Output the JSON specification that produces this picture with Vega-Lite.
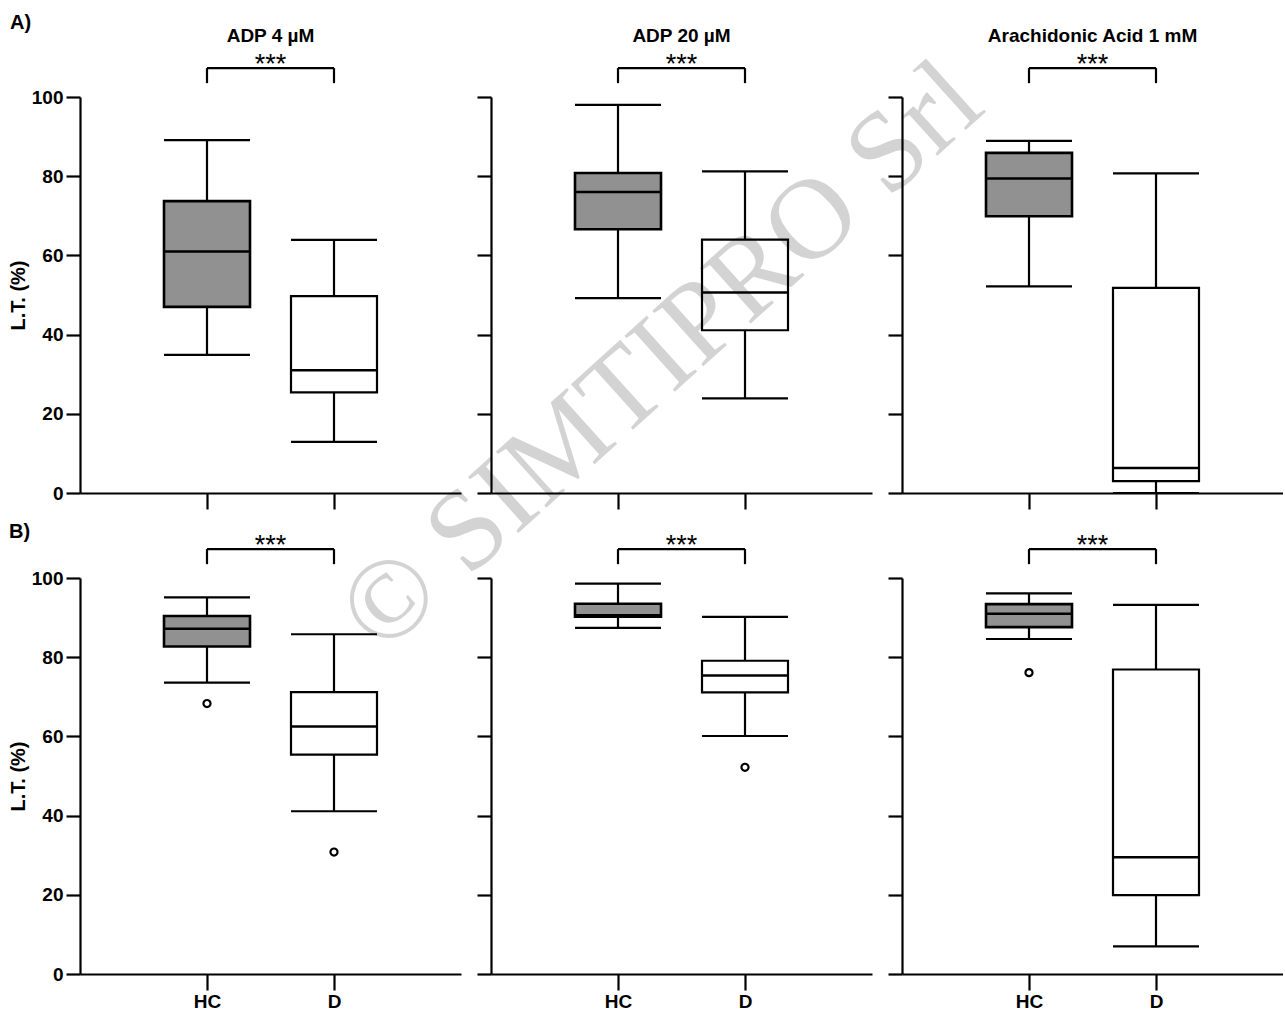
{
  "$schema": "https://vega.github.io/schema/vega-lite/v6.json",
  "background": "white",
  "padding": {"left": 8, "top": 12, "right": 0, "bottom": 0},
  "datasets": {
    "stats": [
      {"row": "A", "agonist": "ADP 4 µM", "group": "HC", "min": 34.9, "q1": 47.0, "median": 61.0, "q3": 73.7, "max": 89.1},
      {"row": "A", "agonist": "ADP 4 µM", "group": "D", "min": 12.9, "q1": 25.4, "median": 31.0, "q3": 49.7, "max": 63.9},
      {"row": "A", "agonist": "ADP 20 µM", "group": "HC", "min": 49.2, "q1": 66.6, "median": 76.0, "q3": 80.8, "max": 98.0},
      {"row": "A", "agonist": "ADP 20 µM", "group": "D", "min": 23.9, "q1": 41.1, "median": 50.6, "q3": 64.0, "max": 81.2},
      {"row": "A", "agonist": "Arachidonic Acid 1 mM", "group": "HC", "min": 52.2, "q1": 69.9, "median": 79.4, "q3": 85.9, "max": 88.9},
      {"row": "A", "agonist": "Arachidonic Acid 1 mM", "group": "D", "min": 0.0, "q1": 3.0, "median": 6.3, "q3": 51.8, "max": 80.7},
      {"row": "B", "agonist": "ADP 4 µM", "group": "HC", "min": 73.6, "q1": 82.7, "median": 87.2, "q3": 90.4, "max": 95.1},
      {"row": "B", "agonist": "ADP 4 µM", "group": "D", "min": 41.1, "q1": 55.4, "median": 62.5, "q3": 71.2, "max": 85.8},
      {"row": "B", "agonist": "ADP 20 µM", "group": "HC", "min": 87.4, "q1": 90.2, "median": 90.6, "q3": 93.5, "max": 98.6},
      {"row": "B", "agonist": "ADP 20 µM", "group": "D", "min": 60.1, "q1": 71.1, "median": 75.4, "q3": 79.1, "max": 90.2},
      {"row": "B", "agonist": "Arachidonic Acid 1 mM", "group": "HC", "min": 84.6, "q1": 87.6, "median": 91.0, "q3": 93.4, "max": 96.1},
      {"row": "B", "agonist": "Arachidonic Acid 1 mM", "group": "D", "min": 7.0, "q1": 19.9, "median": 29.5, "q3": 76.9, "max": 93.2},
      {"row": "B", "agonist": "ADP 4 µM", "group": "HC", "outlier": 68.3},
      {"row": "B", "agonist": "ADP 4 µM", "group": "D", "outlier": 30.8},
      {"row": "B", "agonist": "ADP 20 µM", "group": "D", "outlier": 52.2},
      {"row": "B", "agonist": "Arachidonic Acid 1 mM", "group": "HC", "outlier": 76.1}
    ],
    "notes": [
      {"row": "A", "agonist": "ADP 4 µM", "panel": "A)", "level": 117.2},
      {"row": "B", "agonist": "ADP 4 µM", "panel": "B)", "level": 110.1},
      {"row": "A", "agonist": "ADP 20 µM", "watermark": "© SIMTIPRO Srl", "level": 24.5}
    ]
  },
  "bounds": "flush",
  "columns": 3,
  "spacing": {"row": 85, "column": 30},
  "concat": [
    {
      "width": 381, "height": 396,
      "data": {"name": "stats"},
      "transform": [{"filter": "datum.row == 'A' && datum.agonist == 'ADP 4 µM'"}],
      "encoding": {"x": {"field": "group", "type": "nominal", "scale": {"type": "point", "domain": ["HC", "D"], "padding": 1}, "axis": {"title": null, "labels": false}}},
      "layer": [
        {"transform": [{"filter": "isValid(datum.median)"}], "mark": {"type": "rule", "color": "black", "strokeWidth": 2.2}, "encoding": {"y": {"field": "min", "type": "quantitative", "scale": {"domain": [0, 100], "nice": false}, "axis": {"title": "L.T. (%)", "values": [0, 20, 40, 60, 80, 100]}}, "y2": {"field": "max"}}},
        {"transform": [{"filter": "isValid(datum.median)"}], "mark": {"type": "bar", "width": 86, "stroke": "black"}, "encoding": {"y": {"field": "q1", "type": "quantitative"}, "y2": {"field": "q3"}, "fill": {"field": "group", "type": "nominal", "scale": {"domain": ["HC", "D"], "range": ["#919191", "#ffffff"]}, "legend": null}, "strokeWidth": {"field": "group", "type": "ordinal", "scale": {"domain": ["HC", "D"], "range": [2.6, 2.2]}, "legend": null}}},
        {"transform": [{"filter": "isValid(datum.median)"}], "mark": {"type": "tick", "size": 86, "thickness": 2.5, "color": "black", "opacity": 1}, "encoding": {"y": {"field": "median", "type": "quantitative"}}},
        {"transform": [{"filter": "isValid(datum.median)"}], "mark": {"type": "tick", "size": 86, "thickness": 2.2, "color": "black", "opacity": 1}, "encoding": {"y": {"field": "min", "type": "quantitative"}}},
        {"transform": [{"filter": "isValid(datum.median)"}], "mark": {"type": "tick", "size": 86, "thickness": 2.2, "color": "black", "opacity": 1}, "encoding": {"y": {"field": "max", "type": "quantitative"}}},
        {"transform": [{"filter": "isValid(datum.outlier)"}], "mark": {"type": "point", "shape": "circle", "filled": false, "size": 50, "strokeWidth": 2.2, "color": "black", "opacity": 1}, "encoding": {"y": {"field": "outlier", "type": "quantitative"}}},
        {"transform": [{"filter": "isValid(datum.median) && datum.group == 'HC'"}], "mark": {"type": "rule", "color": "black", "strokeWidth": 2.2}, "encoding": {"x": {"datum": "HC", "type": "nominal"}, "x2": {"datum": "D"}, "y": {"datum": 107.3, "type": "quantitative"}}},
        {"transform": [{"filter": "isValid(datum.median)"}], "mark": {"type": "rule", "color": "black", "strokeWidth": 2.2}, "encoding": {"y": {"datum": 103.5, "type": "quantitative"}, "y2": {"datum": 107.3}}},
        {"transform": [{"filter": "isValid(datum.median) && datum.group == 'HC'"}], "mark": {"type": "text", "text": "***", "fontSize": 27, "font": "Liberation Sans", "color": "black", "align": "center", "baseline": "alphabetic", "dx": 63.5}, "encoding": {"x": {"datum": "HC", "type": "nominal"}, "y": {"datum": 106.15, "type": "quantitative"}}},
        {"transform": [{"filter": "isValid(datum.median) && datum.group == 'HC'"}], "mark": {"type": "text", "fontSize": 19, "fontWeight": "bold", "font": "Liberation Sans", "color": "black", "align": "center", "baseline": "alphabetic", "dx": 63.5}, "encoding": {"x": {"datum": "HC", "type": "nominal"}, "y": {"datum": 113.9, "type": "quantitative"}, "text": {"field": "agonist"}}},
        {"data": {"name": "notes"}, "transform": [{"filter": "datum.panel == 'A)'"}], "mark": {"type": "text", "fontSize": 20, "fontWeight": "bold", "font": "Liberation Sans", "color": "black", "align": "left", "baseline": "alphabetic", "dx": -197}, "encoding": {"x": {"datum": "HC", "type": "nominal"}, "y": {"field": "level", "type": "quantitative"}, "text": {"field": "panel"}}}
      ]
    },
    {
      "width": 381, "height": 396,
      "data": {"name": "stats"},
      "transform": [{"filter": "datum.row == 'A' && datum.agonist == 'ADP 20 µM'"}],
      "encoding": {"x": {"field": "group", "type": "nominal", "scale": {"type": "point", "domain": ["HC", "D"], "padding": 1}, "axis": {"title": null, "labels": false}}},
      "layer": [
        {"transform": [{"filter": "isValid(datum.median)"}], "mark": {"type": "rule", "color": "black", "strokeWidth": 2.2}, "encoding": {"y": {"field": "min", "type": "quantitative", "scale": {"domain": [0, 100], "nice": false}, "axis": {"title": null, "labels": false, "values": [0, 20, 40, 60, 80, 100]}}, "y2": {"field": "max"}}},
        {"transform": [{"filter": "isValid(datum.median)"}], "mark": {"type": "bar", "width": 86, "stroke": "black"}, "encoding": {"y": {"field": "q1", "type": "quantitative"}, "y2": {"field": "q3"}, "fill": {"field": "group", "type": "nominal", "scale": {"domain": ["HC", "D"], "range": ["#919191", "#ffffff"]}, "legend": null}, "strokeWidth": {"field": "group", "type": "ordinal", "scale": {"domain": ["HC", "D"], "range": [2.6, 2.2]}, "legend": null}}},
        {"transform": [{"filter": "isValid(datum.median)"}], "mark": {"type": "tick", "size": 86, "thickness": 2.5, "color": "black", "opacity": 1}, "encoding": {"y": {"field": "median", "type": "quantitative"}}},
        {"transform": [{"filter": "isValid(datum.median)"}], "mark": {"type": "tick", "size": 86, "thickness": 2.2, "color": "black", "opacity": 1}, "encoding": {"y": {"field": "min", "type": "quantitative"}}},
        {"transform": [{"filter": "isValid(datum.median)"}], "mark": {"type": "tick", "size": 86, "thickness": 2.2, "color": "black", "opacity": 1}, "encoding": {"y": {"field": "max", "type": "quantitative"}}},
        {"transform": [{"filter": "isValid(datum.outlier)"}], "mark": {"type": "point", "shape": "circle", "filled": false, "size": 50, "strokeWidth": 2.2, "color": "black", "opacity": 1}, "encoding": {"y": {"field": "outlier", "type": "quantitative"}}},
        {"transform": [{"filter": "isValid(datum.median) && datum.group == 'HC'"}], "mark": {"type": "rule", "color": "black", "strokeWidth": 2.2}, "encoding": {"x": {"datum": "HC", "type": "nominal"}, "x2": {"datum": "D"}, "y": {"datum": 107.3, "type": "quantitative"}}},
        {"transform": [{"filter": "isValid(datum.median)"}], "mark": {"type": "rule", "color": "black", "strokeWidth": 2.2}, "encoding": {"y": {"datum": 103.5, "type": "quantitative"}, "y2": {"datum": 107.3}}},
        {"transform": [{"filter": "isValid(datum.median) && datum.group == 'HC'"}], "mark": {"type": "text", "text": "***", "fontSize": 27, "font": "Liberation Sans", "color": "black", "align": "center", "baseline": "alphabetic", "dx": 63.5}, "encoding": {"x": {"datum": "HC", "type": "nominal"}, "y": {"datum": 106.15, "type": "quantitative"}}},
        {"transform": [{"filter": "isValid(datum.median) && datum.group == 'HC'"}], "mark": {"type": "text", "fontSize": 19, "fontWeight": "bold", "font": "Liberation Sans", "color": "black", "align": "center", "baseline": "alphabetic", "dx": 63.5}, "encoding": {"x": {"datum": "HC", "type": "nominal"}, "y": {"datum": 113.9, "type": "quantitative"}, "text": {"field": "agonist"}}},
        {"data": {"name": "notes"}, "transform": [{"filter": "isValid(datum.watermark)"}], "mark": {"type": "text", "fontSize": 115, "font": "Liberation Serif", "color": "#000000", "opacity": 0.17, "angle": -42, "align": "center", "baseline": "middle", "dx": 58}, "encoding": {"x": {"datum": "HC", "type": "nominal"}, "y": {"field": "level", "type": "quantitative"}, "text": {"field": "watermark"}}}
      ]
    },
    {
      "width": 381, "height": 396,
      "data": {"name": "stats"},
      "transform": [{"filter": "datum.row == 'A' && datum.agonist == 'Arachidonic Acid 1 mM'"}],
      "encoding": {"x": {"field": "group", "type": "nominal", "scale": {"type": "point", "domain": ["HC", "D"], "padding": 1}, "axis": {"title": null, "labels": false}}},
      "layer": [
        {"transform": [{"filter": "isValid(datum.median)"}], "mark": {"type": "rule", "color": "black", "strokeWidth": 2.2}, "encoding": {"y": {"field": "min", "type": "quantitative", "scale": {"domain": [0, 100], "nice": false}, "axis": {"title": null, "labels": false, "values": [0, 20, 40, 60, 80, 100]}}, "y2": {"field": "max"}}},
        {"transform": [{"filter": "isValid(datum.median)"}], "mark": {"type": "bar", "width": 86, "stroke": "black"}, "encoding": {"y": {"field": "q1", "type": "quantitative"}, "y2": {"field": "q3"}, "fill": {"field": "group", "type": "nominal", "scale": {"domain": ["HC", "D"], "range": ["#919191", "#ffffff"]}, "legend": null}, "strokeWidth": {"field": "group", "type": "ordinal", "scale": {"domain": ["HC", "D"], "range": [2.6, 2.2]}, "legend": null}}},
        {"transform": [{"filter": "isValid(datum.median)"}], "mark": {"type": "tick", "size": 86, "thickness": 2.5, "color": "black", "opacity": 1}, "encoding": {"y": {"field": "median", "type": "quantitative"}}},
        {"transform": [{"filter": "isValid(datum.median)"}], "mark": {"type": "tick", "size": 86, "thickness": 2.2, "color": "black", "opacity": 1}, "encoding": {"y": {"field": "min", "type": "quantitative"}}},
        {"transform": [{"filter": "isValid(datum.median)"}], "mark": {"type": "tick", "size": 86, "thickness": 2.2, "color": "black", "opacity": 1}, "encoding": {"y": {"field": "max", "type": "quantitative"}}},
        {"transform": [{"filter": "isValid(datum.outlier)"}], "mark": {"type": "point", "shape": "circle", "filled": false, "size": 50, "strokeWidth": 2.2, "color": "black", "opacity": 1}, "encoding": {"y": {"field": "outlier", "type": "quantitative"}}},
        {"transform": [{"filter": "isValid(datum.median) && datum.group == 'HC'"}], "mark": {"type": "rule", "color": "black", "strokeWidth": 2.2}, "encoding": {"x": {"datum": "HC", "type": "nominal"}, "x2": {"datum": "D"}, "y": {"datum": 107.3, "type": "quantitative"}}},
        {"transform": [{"filter": "isValid(datum.median)"}], "mark": {"type": "rule", "color": "black", "strokeWidth": 2.2}, "encoding": {"y": {"datum": 103.5, "type": "quantitative"}, "y2": {"datum": 107.3}}},
        {"transform": [{"filter": "isValid(datum.median) && datum.group == 'HC'"}], "mark": {"type": "text", "text": "***", "fontSize": 27, "font": "Liberation Sans", "color": "black", "align": "center", "baseline": "alphabetic", "dx": 63.5}, "encoding": {"x": {"datum": "HC", "type": "nominal"}, "y": {"datum": 106.15, "type": "quantitative"}}},
        {"transform": [{"filter": "isValid(datum.median) && datum.group == 'HC'"}], "mark": {"type": "text", "fontSize": 19, "fontWeight": "bold", "font": "Liberation Sans", "color": "black", "align": "center", "baseline": "alphabetic", "dx": 63.5}, "encoding": {"x": {"datum": "HC", "type": "nominal"}, "y": {"datum": 113.9, "type": "quantitative"}, "text": {"field": "agonist"}}}
      ]
    },
    {
      "width": 381, "height": 396,
      "data": {"name": "stats"},
      "transform": [{"filter": "datum.row == 'B' && datum.agonist == 'ADP 4 µM'"}],
      "encoding": {"x": {"field": "group", "type": "nominal", "scale": {"type": "point", "domain": ["HC", "D"], "padding": 1}, "axis": {"title": null, "labels": true}}},
      "layer": [
        {"transform": [{"filter": "isValid(datum.median)"}], "mark": {"type": "rule", "color": "black", "strokeWidth": 2.2}, "encoding": {"y": {"field": "min", "type": "quantitative", "scale": {"domain": [0, 100], "nice": false}, "axis": {"title": "L.T. (%)", "values": [0, 20, 40, 60, 80, 100]}}, "y2": {"field": "max"}}},
        {"transform": [{"filter": "isValid(datum.median)"}], "mark": {"type": "bar", "width": 86, "stroke": "black"}, "encoding": {"y": {"field": "q1", "type": "quantitative"}, "y2": {"field": "q3"}, "fill": {"field": "group", "type": "nominal", "scale": {"domain": ["HC", "D"], "range": ["#919191", "#ffffff"]}, "legend": null}, "strokeWidth": {"field": "group", "type": "ordinal", "scale": {"domain": ["HC", "D"], "range": [2.6, 2.2]}, "legend": null}}},
        {"transform": [{"filter": "isValid(datum.median)"}], "mark": {"type": "tick", "size": 86, "thickness": 2.5, "color": "black", "opacity": 1}, "encoding": {"y": {"field": "median", "type": "quantitative"}}},
        {"transform": [{"filter": "isValid(datum.median)"}], "mark": {"type": "tick", "size": 86, "thickness": 2.2, "color": "black", "opacity": 1}, "encoding": {"y": {"field": "min", "type": "quantitative"}}},
        {"transform": [{"filter": "isValid(datum.median)"}], "mark": {"type": "tick", "size": 86, "thickness": 2.2, "color": "black", "opacity": 1}, "encoding": {"y": {"field": "max", "type": "quantitative"}}},
        {"transform": [{"filter": "isValid(datum.outlier)"}], "mark": {"type": "point", "shape": "circle", "filled": false, "size": 50, "strokeWidth": 2.2, "color": "black", "opacity": 1}, "encoding": {"y": {"field": "outlier", "type": "quantitative"}}},
        {"transform": [{"filter": "isValid(datum.median) && datum.group == 'HC'"}], "mark": {"type": "rule", "color": "black", "strokeWidth": 2.2}, "encoding": {"x": {"datum": "HC", "type": "nominal"}, "x2": {"datum": "D"}, "y": {"datum": 107.3, "type": "quantitative"}}},
        {"transform": [{"filter": "isValid(datum.median)"}], "mark": {"type": "rule", "color": "black", "strokeWidth": 2.2}, "encoding": {"y": {"datum": 103.5, "type": "quantitative"}, "y2": {"datum": 107.3}}},
        {"transform": [{"filter": "isValid(datum.median) && datum.group == 'HC'"}], "mark": {"type": "text", "text": "***", "fontSize": 27, "font": "Liberation Sans", "color": "black", "align": "center", "baseline": "alphabetic", "dx": 63.5}, "encoding": {"x": {"datum": "HC", "type": "nominal"}, "y": {"datum": 106.15, "type": "quantitative"}}},
        {"data": {"name": "notes"}, "transform": [{"filter": "datum.panel == 'B)'"}], "mark": {"type": "text", "fontSize": 20, "fontWeight": "bold", "font": "Liberation Sans", "color": "black", "align": "left", "baseline": "alphabetic", "dx": -198}, "encoding": {"x": {"datum": "HC", "type": "nominal"}, "y": {"field": "level", "type": "quantitative"}, "text": {"field": "panel"}}}
      ]
    },
    {
      "width": 381, "height": 396,
      "data": {"name": "stats"},
      "transform": [{"filter": "datum.row == 'B' && datum.agonist == 'ADP 20 µM'"}],
      "encoding": {"x": {"field": "group", "type": "nominal", "scale": {"type": "point", "domain": ["HC", "D"], "padding": 1}, "axis": {"title": null, "labels": true}}},
      "layer": [
        {"transform": [{"filter": "isValid(datum.median)"}], "mark": {"type": "rule", "color": "black", "strokeWidth": 2.2}, "encoding": {"y": {"field": "min", "type": "quantitative", "scale": {"domain": [0, 100], "nice": false}, "axis": {"title": null, "labels": false, "values": [0, 20, 40, 60, 80, 100]}}, "y2": {"field": "max"}}},
        {"transform": [{"filter": "isValid(datum.median)"}], "mark": {"type": "bar", "width": 86, "stroke": "black"}, "encoding": {"y": {"field": "q1", "type": "quantitative"}, "y2": {"field": "q3"}, "fill": {"field": "group", "type": "nominal", "scale": {"domain": ["HC", "D"], "range": ["#919191", "#ffffff"]}, "legend": null}, "strokeWidth": {"field": "group", "type": "ordinal", "scale": {"domain": ["HC", "D"], "range": [2.6, 2.2]}, "legend": null}}},
        {"transform": [{"filter": "isValid(datum.median)"}], "mark": {"type": "tick", "size": 86, "thickness": 2.5, "color": "black", "opacity": 1}, "encoding": {"y": {"field": "median", "type": "quantitative"}}},
        {"transform": [{"filter": "isValid(datum.median)"}], "mark": {"type": "tick", "size": 86, "thickness": 2.2, "color": "black", "opacity": 1}, "encoding": {"y": {"field": "min", "type": "quantitative"}}},
        {"transform": [{"filter": "isValid(datum.median)"}], "mark": {"type": "tick", "size": 86, "thickness": 2.2, "color": "black", "opacity": 1}, "encoding": {"y": {"field": "max", "type": "quantitative"}}},
        {"transform": [{"filter": "isValid(datum.outlier)"}], "mark": {"type": "point", "shape": "circle", "filled": false, "size": 50, "strokeWidth": 2.2, "color": "black", "opacity": 1}, "encoding": {"y": {"field": "outlier", "type": "quantitative"}}},
        {"transform": [{"filter": "isValid(datum.median) && datum.group == 'HC'"}], "mark": {"type": "rule", "color": "black", "strokeWidth": 2.2}, "encoding": {"x": {"datum": "HC", "type": "nominal"}, "x2": {"datum": "D"}, "y": {"datum": 107.3, "type": "quantitative"}}},
        {"transform": [{"filter": "isValid(datum.median)"}], "mark": {"type": "rule", "color": "black", "strokeWidth": 2.2}, "encoding": {"y": {"datum": 103.5, "type": "quantitative"}, "y2": {"datum": 107.3}}},
        {"transform": [{"filter": "isValid(datum.median) && datum.group == 'HC'"}], "mark": {"type": "text", "text": "***", "fontSize": 27, "font": "Liberation Sans", "color": "black", "align": "center", "baseline": "alphabetic", "dx": 63.5}, "encoding": {"x": {"datum": "HC", "type": "nominal"}, "y": {"datum": 106.15, "type": "quantitative"}}}
      ]
    },
    {
      "width": 381, "height": 396,
      "data": {"name": "stats"},
      "transform": [{"filter": "datum.row == 'B' && datum.agonist == 'Arachidonic Acid 1 mM'"}],
      "encoding": {"x": {"field": "group", "type": "nominal", "scale": {"type": "point", "domain": ["HC", "D"], "padding": 1}, "axis": {"title": null, "labels": true}}},
      "layer": [
        {"transform": [{"filter": "isValid(datum.median)"}], "mark": {"type": "rule", "color": "black", "strokeWidth": 2.2}, "encoding": {"y": {"field": "min", "type": "quantitative", "scale": {"domain": [0, 100], "nice": false}, "axis": {"title": null, "labels": false, "values": [0, 20, 40, 60, 80, 100]}}, "y2": {"field": "max"}}},
        {"transform": [{"filter": "isValid(datum.median)"}], "mark": {"type": "bar", "width": 86, "stroke": "black"}, "encoding": {"y": {"field": "q1", "type": "quantitative"}, "y2": {"field": "q3"}, "fill": {"field": "group", "type": "nominal", "scale": {"domain": ["HC", "D"], "range": ["#919191", "#ffffff"]}, "legend": null}, "strokeWidth": {"field": "group", "type": "ordinal", "scale": {"domain": ["HC", "D"], "range": [2.6, 2.2]}, "legend": null}}},
        {"transform": [{"filter": "isValid(datum.median)"}], "mark": {"type": "tick", "size": 86, "thickness": 2.5, "color": "black", "opacity": 1}, "encoding": {"y": {"field": "median", "type": "quantitative"}}},
        {"transform": [{"filter": "isValid(datum.median)"}], "mark": {"type": "tick", "size": 86, "thickness": 2.2, "color": "black", "opacity": 1}, "encoding": {"y": {"field": "min", "type": "quantitative"}}},
        {"transform": [{"filter": "isValid(datum.median)"}], "mark": {"type": "tick", "size": 86, "thickness": 2.2, "color": "black", "opacity": 1}, "encoding": {"y": {"field": "max", "type": "quantitative"}}},
        {"transform": [{"filter": "isValid(datum.outlier)"}], "mark": {"type": "point", "shape": "circle", "filled": false, "size": 50, "strokeWidth": 2.2, "color": "black", "opacity": 1}, "encoding": {"y": {"field": "outlier", "type": "quantitative"}}},
        {"transform": [{"filter": "isValid(datum.median) && datum.group == 'HC'"}], "mark": {"type": "rule", "color": "black", "strokeWidth": 2.2}, "encoding": {"x": {"datum": "HC", "type": "nominal"}, "x2": {"datum": "D"}, "y": {"datum": 107.3, "type": "quantitative"}}},
        {"transform": [{"filter": "isValid(datum.median)"}], "mark": {"type": "rule", "color": "black", "strokeWidth": 2.2}, "encoding": {"y": {"datum": 103.5, "type": "quantitative"}, "y2": {"datum": 107.3}}},
        {"transform": [{"filter": "isValid(datum.median) && datum.group == 'HC'"}], "mark": {"type": "text", "text": "***", "fontSize": 27, "font": "Liberation Sans", "color": "black", "align": "center", "baseline": "alphabetic", "dx": 63.5}, "encoding": {"x": {"datum": "HC", "type": "nominal"}, "y": {"datum": 106.15, "type": "quantitative"}}}
      ]
    }
  ],
  "config": {
    "view": {"stroke": null},
    "font": "Liberation Sans",
    "axis": {"domainColor": "black", "domainWidth": 2.2, "tickColor": "black", "tickWidth": 2.2, "labelColor": "black", "labelFont": "Liberation Sans", "labelFontSize": 19, "labelFontWeight": "bold", "titleColor": "black", "titleFont": "Liberation Sans", "titleFontSize": 20, "titleFontWeight": "bold", "grid": false},
    "axisY": {"tickSize": 14, "labelPadding": 3, "titlePadding": 3},
    "axisX": {"tickSize": 16, "labelPadding": 2, "labelAngle": 0}
  }
}
